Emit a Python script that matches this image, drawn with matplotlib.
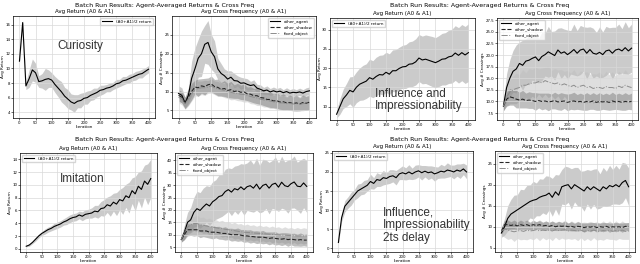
import numpy as np
import matplotlib
matplotlib.use('Agg')
import matplotlib.pyplot as plt

# iterations (every 10)
iters = list(range(0, 401, 10))

# ---- Curiosity ----
cur_ret = [11.0, 16.3, 7.6, 8.6, 9.8, 9.4, 8.2, 8.3, 8.5, 8.6,
           8.4, 7.8, 7.3, 6.8, 6.2, 5.8, 5.4, 5.2, 5.5, 5.6,
           5.9, 6.0, 6.3, 6.5, 6.7, 7.0, 7.1, 7.3, 7.4, 7.6,
           7.9, 8.0, 8.3, 8.4, 8.6, 8.8, 9.0, 9.2, 9.3, 9.6,
           9.9]
cur_ret_sd = [0.3, 0.3, 0.5, 1.2, 1.5, 1.3, 0.8, 1.0, 1.5, 1.2,
              1.0, 1.1, 1.2, 1.4, 1.2, 1.3, 1.1, 1.2, 0.9, 1.0,
              0.8, 0.9, 0.7, 0.8, 0.6, 0.7, 0.6, 0.5, 0.6, 0.5,
              0.6, 0.5, 0.6, 0.5, 0.6, 0.5, 0.6, 0.5, 0.6, 0.5,
              0.5]
cur_agent = [9.5, 9.0, 7.0, 9.0, 13.5, 16.0, 18.8, 20.0, 22.5, 23.0,
             20.5, 19.2, 16.0, 14.8, 14.2, 13.3, 13.8, 12.9, 12.8, 12.2,
             12.3, 11.9, 11.6, 11.8, 10.9, 10.6, 10.2, 10.4, 9.9, 10.2,
             9.9, 10.1, 9.7, 10.0, 9.6, 9.8, 9.7, 9.9, 9.6, 10.0,
             10.2]
cur_agent_sd = [2.0, 2.0, 1.5, 2.0, 4.5, 5.5, 5.0, 6.0, 5.0, 5.8,
                4.6, 4.2, 2.8, 2.6, 1.8, 2.2, 1.7, 1.9, 1.4, 1.6,
                1.3, 1.5, 1.1, 1.3, 1.0, 1.2, 0.9, 1.1, 0.9, 1.0,
                0.9, 1.0, 0.8, 1.0, 0.9, 1.0, 0.8, 1.0, 0.9, 1.0,
                1.0]
cur_shadow = [9.0, 8.5, 7.0, 8.5, 10.0, 11.2, 11.0, 11.5, 11.3, 11.8,
              12.0, 11.3, 11.1, 10.6, 10.8, 10.3, 10.5, 10.0, 10.2, 9.8,
              9.9, 9.4, 9.3, 8.9, 8.9, 8.4, 8.3, 7.9, 7.9, 7.5,
              7.6, 7.2, 7.3, 7.0, 7.1, 6.8, 7.0, 6.7, 7.1, 6.9,
              7.2]
cur_shadow_sd = [1.5, 1.5, 1.5, 2.0, 2.2, 1.8, 2.3, 1.9, 2.2, 1.8,
                 2.1, 1.9, 2.2, 1.8, 2.1, 1.9, 2.2, 1.8, 2.0, 1.9,
                 2.1, 1.8, 2.0, 1.9, 2.1, 1.8, 2.0, 1.9, 2.1, 1.8,
                 2.0, 1.9, 2.1, 1.8, 2.0, 1.9, 2.1, 1.8, 2.0, 1.9,
                 2.0]
cur_fixed = [8.5, 8.0, 6.8, 8.0, 9.5, 10.5, 10.8, 11.0, 11.0, 11.2,
             11.5, 11.0, 10.7, 10.5, 10.3, 10.0, 9.8, 9.6, 9.5, 9.3,
             9.2, 9.0, 8.7, 8.5, 8.3, 8.0, 7.8, 7.7, 7.5, 7.3,
             7.2, 7.0, 7.0, 6.8, 6.9, 6.7, 6.8, 6.6, 6.8, 6.9,
             7.0]
cur_fixed_sd = [1.5, 1.5, 1.5, 1.8, 2.0, 1.7, 2.0, 1.8, 2.0, 1.7,
                1.9, 1.8, 2.0, 1.7, 1.9, 1.8, 2.0, 1.7, 1.9, 1.8,
                2.0, 1.7, 1.9, 1.8, 2.0, 1.7, 1.9, 1.8, 2.0, 1.7,
                1.9, 1.8, 2.0, 1.7, 1.9, 1.8, 2.0, 1.7, 1.9, 1.8,
                1.8]

# ---- Influence and Impressionability ----
inf_ret = [8.0, 10.0, 12.0, 13.0, 14.2, 13.8, 15.0, 15.8, 16.2, 16.6,
           17.5, 17.1, 17.8, 18.3, 18.2, 18.9, 18.4, 19.3, 19.3, 19.9,
           20.3, 20.4, 21.0, 21.1, 21.6, 22.6, 22.1, 22.3, 22.0, 21.7,
           21.4, 21.8, 22.3, 22.4, 22.9, 23.1, 23.9, 23.3, 24.0, 23.4,
           24.0]
inf_ret_sd = [1.0, 2.0, 2.5, 3.0, 3.5, 4.0, 4.0, 4.2, 4.5, 4.5,
              4.8, 4.8, 5.0, 5.0, 5.2, 5.2, 5.3, 5.4, 5.5, 5.5,
              5.6, 5.7, 5.8, 5.9, 6.0, 6.1, 6.2, 6.3, 6.4, 6.5,
              6.5, 6.6, 6.7, 6.8, 6.9, 7.0, 7.1, 7.2, 7.3, 7.4,
              7.5]
inf_agent = [9.0, 13.0, 15.0, 16.5, 17.0, 18.2, 17.8, 18.7, 18.9, 19.3,
             19.6, 18.8, 19.7, 20.1, 20.7, 20.3, 19.9, 21.1, 20.4, 20.7,
             20.1, 20.6, 21.2, 20.4, 21.1, 21.3, 20.4, 21.2, 20.4, 20.2,
             20.6, 20.1, 20.9, 21.1, 20.4, 21.1, 21.3, 20.9, 21.6, 20.9,
             21.5]
inf_agent_sd = [1.0, 3.0, 4.0, 4.5, 5.2, 4.6, 5.4, 4.8, 5.3, 4.7,
                5.4, 4.8, 5.2, 4.6, 5.5, 4.8, 5.3, 4.7, 5.5, 4.9,
                5.3, 4.7, 5.5, 4.9, 5.3, 4.8, 5.6, 4.9, 5.4, 4.7,
                5.5, 4.9, 5.3, 4.8, 5.6, 4.9, 5.4, 4.8, 5.6, 5.0,
                5.2]
inf_shadow = [9.0, 10.5, 11.0, 10.8, 10.5, 10.3, 10.5, 10.2, 10.3, 10.2,
              10.0, 10.2, 10.0, 10.1, 9.9, 10.0, 10.2, 9.9, 10.0, 10.1,
              9.8, 10.0, 10.1, 9.9, 10.0, 9.8, 10.0, 9.9, 10.1, 9.8,
              10.0, 9.9, 10.0, 9.8, 10.1, 9.9, 10.0, 9.8, 10.0, 9.9,
              10.0]
inf_shadow_sd = [1.0, 1.5, 1.8, 1.6, 1.9, 1.7, 1.9, 1.6, 1.8, 1.7,
                 1.9, 1.6, 1.8, 1.7, 1.9, 1.6, 1.8, 1.7, 1.9, 1.6,
                 1.8, 1.7, 1.9, 1.6, 1.8, 1.7, 1.9, 1.6, 1.8, 1.7,
                 1.9, 1.6, 1.8, 1.7, 1.9, 1.6, 1.8, 1.7, 1.9, 1.6,
                 1.8]
inf_fixed = [9.0, 11.0, 12.0, 12.5, 12.8, 13.0, 13.5, 13.5, 13.8, 14.0,
             14.0, 14.3, 14.0, 14.5, 14.2, 14.0, 13.8, 14.0, 13.5, 13.8,
             13.5, 13.2, 13.5, 13.0, 13.3, 13.5, 13.0, 13.2, 12.8, 13.0,
             13.0, 12.8, 13.2, 13.0, 13.0, 12.8, 13.3, 13.0, 13.5, 13.2,
             13.0]
inf_fixed_sd = [1.0, 2.0, 2.5, 3.0, 3.3, 2.8, 3.4, 2.7, 3.3, 2.9,
                3.4, 2.7, 3.2, 2.9, 3.4, 2.7, 3.3, 2.8, 3.4, 2.7,
                3.2, 2.9, 3.4, 2.7, 3.3, 2.8, 3.4, 2.7, 3.2, 2.9,
                3.4, 2.7, 3.3, 2.8, 3.4, 2.7, 3.2, 2.9, 3.4, 2.7,
                3.0]

# ---- Imitation ----
imi_ret = [0.4, 0.6, 1.0, 1.5, 2.0, 2.4, 2.7, 3.0, 3.2, 3.5,
           3.7, 3.9, 4.2, 4.4, 4.7, 4.9, 5.0, 5.3, 5.1, 5.4,
           5.5, 5.6, 5.9, 5.8, 6.3, 6.4, 6.9, 6.7, 7.3, 7.0,
           7.7, 7.5, 8.3, 8.0, 9.1, 8.6, 9.8, 9.3, 10.6, 10.1,
           11.0]
imi_ret_sd = [0.1, 0.2, 0.2, 0.3, 0.3, 0.3, 0.4, 0.4, 0.4, 0.5,
              0.5, 0.5, 0.5, 0.6, 0.6, 0.6, 0.6, 0.6, 0.7, 0.7,
              0.7, 0.8, 0.9, 1.0, 1.1, 1.3, 1.2, 1.6, 1.4, 1.8,
              1.6, 2.1, 1.8, 2.4, 2.0, 2.7, 2.2, 2.9, 2.5, 3.2,
              3.0]
imi_agent = [8.0, 11.0, 15.0, 16.0, 19.0, 20.5, 19.8, 21.2, 22.4, 21.6,
             23.3, 24.2, 25.4, 25.8, 27.4, 28.2, 27.2, 28.6, 28.1, 29.3,
             28.2, 29.4, 29.8, 28.8, 30.4, 28.4, 29.9, 30.4, 28.8, 30.3,
             30.8, 29.2, 31.2, 29.8, 29.4, 30.6, 31.3, 29.6, 29.4, 30.9,
             29.5]
imi_agent_sd = [1.0, 3.0, 4.0, 5.0, 6.0, 7.0, 7.2, 7.6, 7.4, 7.9,
                8.1, 8.0, 8.6, 8.4, 9.0, 8.8, 9.5, 9.1, 9.9, 9.4,
                10.3, 9.6, 10.4, 9.7, 10.5, 9.6, 10.6, 9.8, 10.4, 9.7,
                10.6, 9.8, 10.5, 9.6, 10.7, 9.9, 10.5, 9.7, 10.8, 10.0,
                10.5]
imi_shadow = [8.0, 10.0, 12.0, 12.0, 12.0, 12.0, 11.5, 11.5, 11.5, 11.0,
              11.0, 11.0, 10.8, 10.5, 10.5, 10.3, 10.0, 10.0, 10.0, 9.8,
              9.5, 9.5, 9.3, 9.2, 9.0, 9.0, 9.0, 8.8, 8.5, 8.7,
              8.5, 8.3, 8.2, 8.4, 8.0, 8.2, 8.0, 7.8, 8.0, 7.8,
              7.8]
imi_shadow_sd = [1.0, 2.0, 2.5, 2.3, 2.6, 2.4, 2.7, 2.3, 2.6, 2.4,
                 2.7, 2.3, 2.6, 2.4, 2.7, 2.3, 2.6, 2.4, 2.7, 2.3,
                 2.6, 2.4, 2.7, 2.3, 2.6, 2.4, 2.7, 2.3, 2.6, 2.4,
                 2.7, 2.3, 2.6, 2.4, 2.7, 2.3, 2.6, 2.4, 2.7, 2.3,
                 2.5]
imi_fixed = [8.0, 11.0, 13.0, 14.0, 14.5, 14.5, 14.0, 13.8, 13.5, 13.3,
             13.0, 12.8, 12.6, 12.4, 12.2, 12.0, 11.8, 11.6, 11.4, 11.2,
             11.0, 10.9, 10.8, 10.7, 10.6, 10.5, 10.4, 10.3, 10.2, 10.1,
             10.0, 9.9, 9.8, 9.8, 9.7, 9.6, 9.6, 9.5, 9.5, 9.5,
             9.5]
imi_fixed_sd = [1.0, 2.5, 3.0, 3.3, 2.8, 3.4, 2.9, 3.3, 2.8, 3.4,
                2.9, 3.3, 2.8, 3.4, 2.9, 3.3, 2.8, 3.4, 2.9, 3.3,
                2.8, 3.4, 2.9, 3.3, 2.8, 3.4, 2.9, 3.3, 2.8, 3.4,
                2.9, 3.3, 2.8, 3.4, 2.9, 3.3, 2.8, 3.4, 2.9, 3.3,
                3.0]

# ---- Influence, Impressionability, 2ts delay ----
del_ret = [1.5, 8.0, 11.0, 12.0, 13.0, 14.0, 15.0, 15.5, 16.0, 16.5,
           17.5, 17.0, 18.0, 17.8, 18.5, 18.3, 18.8, 19.0, 18.5, 19.5,
           19.8, 19.5, 20.0, 19.5, 20.0, 20.3, 19.8, 20.2, 19.8, 20.0,
           19.5, 19.8, 20.2, 20.0, 20.5, 20.3, 20.0, 20.5, 20.2, 20.8,
           20.0]
del_ret_sd = [0.3, 1.0, 1.5, 1.5, 1.7, 1.4, 1.8, 1.5, 1.8, 1.5,
              1.9, 1.5, 1.8, 1.6, 1.9, 1.5, 1.8, 1.6, 1.9, 1.5,
              1.8, 1.6, 1.9, 1.5, 1.8, 1.6, 1.9, 1.5, 1.8, 1.6,
              1.9, 1.5, 1.8, 1.6, 1.9, 1.5, 1.8, 1.6, 1.9, 1.5,
              1.8]
del_agent = [8.5, 10.0, 12.0, 13.0, 13.5, 14.0, 14.5, 15.0, 15.5, 16.0,
             16.3, 16.5, 17.0, 17.3, 17.5, 18.0, 17.0, 18.3, 17.5, 19.5,
             19.8, 20.0, 19.0, 20.0, 19.5, 19.0, 18.5, 19.5, 18.8, 19.5,
             19.0, 18.5, 19.5, 19.0, 19.8, 19.5, 20.0, 19.5, 20.5, 21.0,
             19.5]
del_agent_sd = [1.0, 2.0, 3.0, 3.5, 4.0, 3.6, 4.4, 3.8, 4.3, 3.9,
                4.5, 3.9, 4.4, 4.0, 4.6, 4.0, 4.5, 4.1, 4.8, 4.1,
                4.6, 4.2, 4.8, 4.1, 4.6, 4.2, 4.8, 4.1, 4.6, 4.2,
                4.8, 4.1, 4.6, 4.2, 4.8, 4.1, 4.6, 4.2, 4.8, 4.1,
                4.5]
del_shadow = [9.0, 10.5, 10.5, 10.3, 10.5, 10.2, 10.5, 10.3, 10.5, 10.2,
              10.5, 10.3, 10.5, 10.2, 10.3, 10.1, 10.3, 10.0, 10.2, 10.1,
              10.2, 10.0, 10.1, 9.9, 10.1, 10.0, 9.8, 10.0, 9.9, 10.1,
              9.8, 10.0, 9.9, 10.1, 9.8, 10.0, 9.9, 10.0, 9.8, 10.1,
              10.0]
del_shadow_sd = [0.8, 1.0, 1.1, 0.9, 1.1, 0.9, 1.1, 0.9, 1.1, 0.9,
                 1.1, 0.9, 1.1, 0.9, 1.1, 0.9, 1.1, 0.9, 1.1, 0.9,
                 1.1, 0.9, 1.1, 0.9, 1.1, 0.9, 1.1, 0.9, 1.1, 0.9,
                 1.1, 0.9, 1.1, 0.9, 1.1, 0.9, 1.1, 0.9, 1.1, 0.9,
                 1.0]
del_fixed = [9.0, 9.5, 9.2, 9.0, 8.8, 9.0, 9.1, 8.9, 9.2, 9.0,
             9.1, 9.3, 9.0, 9.2, 9.1, 9.2, 9.0, 9.3, 9.1, 9.2,
             9.3, 9.0, 9.2, 9.1, 9.0, 9.2, 8.9, 9.1, 9.0, 9.2,
             9.0, 8.9, 9.1, 9.0, 9.2, 8.9, 9.1, 9.0, 9.2, 8.9,
             9.0]
del_fixed_sd = [1.0, 2.0, 2.2, 1.8, 2.3, 1.8, 2.2, 1.9, 2.3, 1.8,
                2.2, 1.9, 2.3, 1.8, 2.2, 1.9, 2.3, 1.8, 2.2, 1.9,
                2.3, 1.8, 2.2, 1.9, 2.3, 1.8, 2.2, 1.9, 2.3, 1.8,
                2.2, 1.9, 2.3, 1.8, 2.2, 1.9, 2.3, 1.8, 2.2, 1.9,
                2.0]

suptitle = 'Batch Run Results: Agent-Averaged Returns & Cross Freq'
W, H = 640, 264

fig = plt.figure(figsize=(6.4, 2.64), dpi=100)


def box(x0, y0, x1, y1):
    return fig.add_axes([x0 / W, 1 - y1 / H, (x1 - x0) / W, (y1 - y0) / H])


def band(ax, m, sd, color='0.55', alpha=0.45):
    m = np.array(m); sd = np.array(sd)
    ax.fill_between(iters, m - sd, m + sd, color=color, alpha=alpha, lw=0)


def style(ax, title, ylabel, yticks, ylim):
    ax.set_title(title, fontsize=4, pad=2)
    ax.set_xlabel('Iteration', fontsize=3, labelpad=0.5)
    ax.set_ylabel(ylabel, fontsize=3, labelpad=0.5)
    ax.set_xticks(range(0, 401, 50))
    ax.set_yticks(yticks)
    ax.set_ylim(*ylim)
    ax.set_xlim(-20, 420)
    ax.tick_params(labelsize=2.8, length=1.2, width=0.4, pad=0.8)
    ax.grid(True, color='0.85', lw=0.5)
    for s in ax.spines.values():
        s.set_linewidth(0.5)


def ret_panel(ax, m, sd, yticks, ylim, loc):
    band(ax, m, sd)
    ax.plot(iters, m, color='black', lw=0.8, label='(A0+A1)/2 return')
    style(ax, 'Avg Return (A0 & A1)', 'Avg Return', yticks, ylim)
    ax.legend(loc=loc, fontsize=3, handlelength=2.5, borderpad=0.4)


def cross_panel(ax, agent, agent_sd, shadow, shadow_sd, fixed, fixed_sd, yticks, ylim, loc, fmt=None):
    band(ax, agent, agent_sd, '0.6', 0.5)
    band(ax, fixed, fixed_sd, '0.75', 0.5)
    band(ax, shadow, shadow_sd, '0.45', 0.45)
    ax.plot(iters, agent, color='black', lw=0.8, label='other_agent')
    ax.plot(iters, shadow, color='0.15', lw=0.8, ls='--', label='other_shadow')
    ax.plot(iters, fixed, color='0.55', lw=0.7, ls='-.', label='fixed_object')
    style(ax, 'Avg Cross Frequency (A0 & A1)', 'Avg # Crossings', yticks, ylim)
    if fmt:
        ax.set_yticklabels([fmt.format(v) for v in yticks])
    ax.legend(loc=loc, fontsize=3, handlelength=2.5, borderpad=0.4)


# top-left: Curiosity
fig.text(165 / W, 1 - 6 / H, suptitle, fontsize=4.5, ha='center', va='center')
a = box(13, 16, 155, 118)
ret_panel(a, cur_ret, cur_ret_sd, [4, 6, 8, 10, 12, 14, 16], (3.2, 17.2), 'upper right')
a = box(172, 16, 316, 118)
cross_panel(a, cur_agent, cur_agent_sd, cur_shadow, cur_shadow_sd, cur_fixed, cur_fixed_sd,
            [5, 10, 15, 20, 25], (3, 30), 'upper right')

# top-right: Influence and Impressionability
fig.text(480 / W, 1 - 6 / H, suptitle, fontsize=4.5, ha='center', va='center')
a = box(330, 18, 475, 120)
ret_panel(a, inf_ret, inf_ret_sd, [10, 15, 20, 25, 30], (6.5, 33), 'upper left')
a = box(497, 18, 638, 120)
cross_panel(a, inf_agent, inf_agent_sd, inf_shadow, inf_shadow_sd, inf_fixed, inf_fixed_sd,
            [7.5, 10, 12.5, 15, 17.5, 20, 22.5, 25, 27.5], (6, 28), 'upper left', '{:.1f}')

# bottom-left: Imitation
fig.text(165 / W, 1 - 140 / H, suptitle, fontsize=4.5, ha='center', va='center')
a = box(20, 153, 157, 252)
ret_panel(a, imi_ret, imi_ret_sd, [0, 2, 4, 6, 8, 10, 12, 14], (-0.5, 15), 'upper left')
a = box(175, 153, 313, 252)
cross_panel(a, imi_agent, imi_agent_sd, imi_shadow, imi_shadow_sd, imi_fixed, imi_fixed_sd,
            [5, 10, 15, 20, 25, 30, 35, 40], (3, 43), 'upper left')

# bottom-right: 2ts delay
fig.text(480 / W, 1 - 140 / H, suptitle, fontsize=4.5, ha='center', va='center')
a = box(332, 151, 473, 252)
ret_panel(a, del_ret, del_ret_sd, [0, 5, 10, 15, 20, 25], (-1, 25.5), 'upper left')
a = box(495, 151, 635, 252)
cross_panel(a, del_agent, del_agent_sd, del_shadow, del_shadow_sd, del_fixed, del_fixed_sd,
            [5, 10, 15, 20, 25], (4, 28), 'upper left')

# big annotations
kw = dict(fontsize=8.5, color='#333333', family='Liberation Sans', va='center')
fig.text(57 / W, 1 - 46 / H, 'Curiosity', **kw)
fig.text(375 / W, 1 - 100 / H, 'Influence and\nImpressionability', linespacing=1.1, **kw)
fig.text(60 / W, 1 - 179 / H, 'Imitation', **kw)
fig.text(383 / W, 1 - 225 / H, 'Influence,\nImpressionability\n2ts delay', linespacing=1.1, **kw)

fig.savefig('out.png', dpi=100)
